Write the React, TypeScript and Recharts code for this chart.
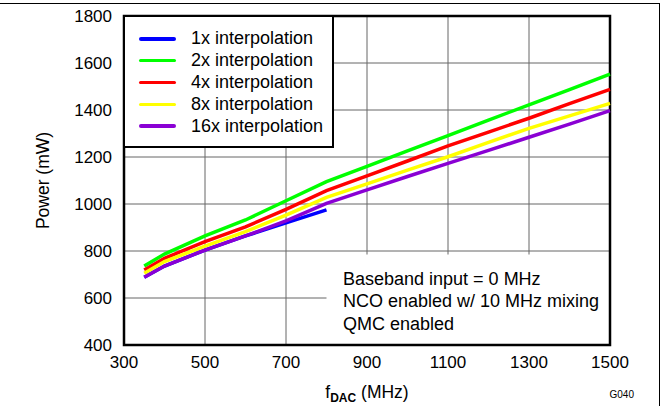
import { LineChart, Line, XAxis, YAxis, CartesianGrid, ReferenceArea, Legend } from 'recharts';

// fDAC sweep (MHz) and power (mW)
const freqs1x = [350, 400, 500, 600, 700, 800];
const power1x = [688, 736, 804, 864, 920, 975];

const freqs = [350, 400, 500, 600, 700, 800, 900, 1000, 1100, 1200, 1300, 1400, 1500];
const power2x = [736, 787, 864, 932, 1014, 1095, 1160, 1226, 1291, 1357, 1422, 1487, 1553];
const power4x = [719, 769, 840, 903, 977, 1057, 1120, 1183, 1247, 1306, 1365, 1427, 1488];
const power8x = [705, 755, 821, 882, 953, 1028, 1086, 1144, 1201, 1262, 1322, 1375, 1428];
const power16x = [688, 736, 804, 864, 928, 1003, 1060, 1117, 1173, 1228, 1284, 1340, 1397];

const xTicks = [300, 500, 700, 900, 1100, 1300, 1500];
const yTicks = [400, 600, 800, 1000, 1200, 1400, 1600, 1800];

const notes = ['Baseband input = 0 MHz', 'NCO enabled w/ 10 MHz mixing', 'QMC enabled'];

const toPoints = (fs: number[], ps: number[]) => fs.map((f, i) => ({ f, p: ps[i] }));

const series = [
  { name: '1x interpolation', color: '#0000ff', data: toPoints(freqs1x, power1x) },
  { name: '2x interpolation', color: '#00ff00', data: toPoints(freqs, power2x) },
  { name: '4x interpolation', color: '#ff0000', data: toPoints(freqs, power4x) },
  { name: '8x interpolation', color: '#ffff00', data: toPoints(freqs, power8x) },
  { name: '16x interpolation', color: '#8a00d4', data: toPoints(freqs, power16x) },
];

const FONT = '"Liberation Sans", Arial, Helvetica, sans-serif';

const LegendBox = () => (
  <div
    style={{
      boxSizing: 'border-box',
      width: 211,
      height: 133,
      border: '2px solid #000',
      background: '#fff',
      paddingTop: 11,
      fontFamily: FONT,
    }}
  >
    {series.map((s) => (
      <div key={s.name} style={{ display: 'flex', alignItems: 'center', height: 21.8 }}>
        <span style={{ display: 'inline-block', width: 37, height: 3.5, marginLeft: 14, background: s.color, borderRadius: 2 }} />
        <span style={{ marginLeft: 15, fontSize: 18, color: '#000', whiteSpace: 'nowrap' }}>{s.name}</span>
      </div>
    ))}
  </div>
);

const XTitle = (props: any) => {
  const vb = props.viewBox;
  const cx = vb.x + vb.width / 2;
  return (
    <g>
      <text x={cx} y={398} textAnchor="middle" fontSize={17.5} fill="#000" fontFamily={FONT}>
        f
        <tspan fontSize={12} fontWeight="bold" dy={4}>DAC</tspan>
        <tspan dy={-4}> (MHz)</tspan>
      </text>
      <text x={vb.x + vb.width + 24} y={398} textAnchor="end" fontSize={10} fill="#000" fontFamily={FONT}>
        G040
      </text>
    </g>
  );
};

const YTitle = (props: any) => {
  const vb = props.viewBox;
  const cy = vb.y + vb.height / 2;
  return (
    <text
      x={49}
      y={cy}
      transform={`rotate(-90, 49, ${cy})`}
      textAnchor="middle"
      fontSize={17.5}
      fill="#000"
      fontFamily={FONT}
    >
      Power (mW)
    </text>
  );
};

export default function App() {
  return (
    <div style={{ position: 'absolute', left: 0, top: 0, width: 669, height: 406, background: '#fff', fontFamily: FONT }}>
      <div
        style={{
          position: 'absolute',
          left: 0,
          top: 3,
          width: 660,
          height: 403,
          boxSizing: 'border-box',
          borderTop: '1.5px solid #000',
          borderRight: '1.5px solid #000',
        }}
      />
      <LineChart
        width={669}
        height={406}
        margin={{ top: 16, right: 59, left: 0, bottom: 0 }}
        style={{ position: 'absolute', left: 0, top: 0 }}
      >
        <CartesianGrid stroke="#666" strokeWidth={1} />
        <XAxis
          type="number"
          dataKey="f"
          domain={[300, 1500]}
          ticks={xTicks}
          height={61}
          tickLine={false}
          axisLine={false}
          tickMargin={5}
          tick={{ fill: '#000', fontSize: 17, fontFamily: FONT }}
          label={XTitle}
        />
        <YAxis
          type="number"
          domain={[400, 1800]}
          ticks={yTicks}
          width={124}
          tickLine={false}
          axisLine={false}
          tickMargin={6}
          tick={{ fill: '#000', fontSize: 17, fontFamily: FONT }}
          label={YTitle}
        />
        <ReferenceArea x1={800} x2={1500} y1={400} y2={785} fill="#fff" fillOpacity={1} stroke="none" />
        {series.map((s) => (
          <Line
            key={s.name}
            data={s.data}
            dataKey="p"
            name={s.name}
            stroke={s.color}
            strokeWidth={3.5}
            dot={false}
            type="linear"
            isAnimationActive={false}
          />
        ))}
        <ReferenceArea x1={300} x2={1500} y1={400} y2={1800} fill="none" stroke="#000" strokeWidth={2.5} />
        <Legend
          layout="vertical"
          align="center"
          verticalAlign="middle"
          content={<LegendBox />}
          wrapperStyle={{ position: 'absolute', left: 123, top: 15, width: 211, height: 133 }}
        />
      </LineChart>
      <div
        style={{
          position: 'absolute',
          left: 343,
          top: 268,
          fontSize: 18,
          lineHeight: '22.4px',
          color: '#000',
          whiteSpace: 'nowrap',
        }}
      >
        {notes.map((n) => (
          <div key={n}>{n}</div>
        ))}
      </div>
    </div>
  );
}
